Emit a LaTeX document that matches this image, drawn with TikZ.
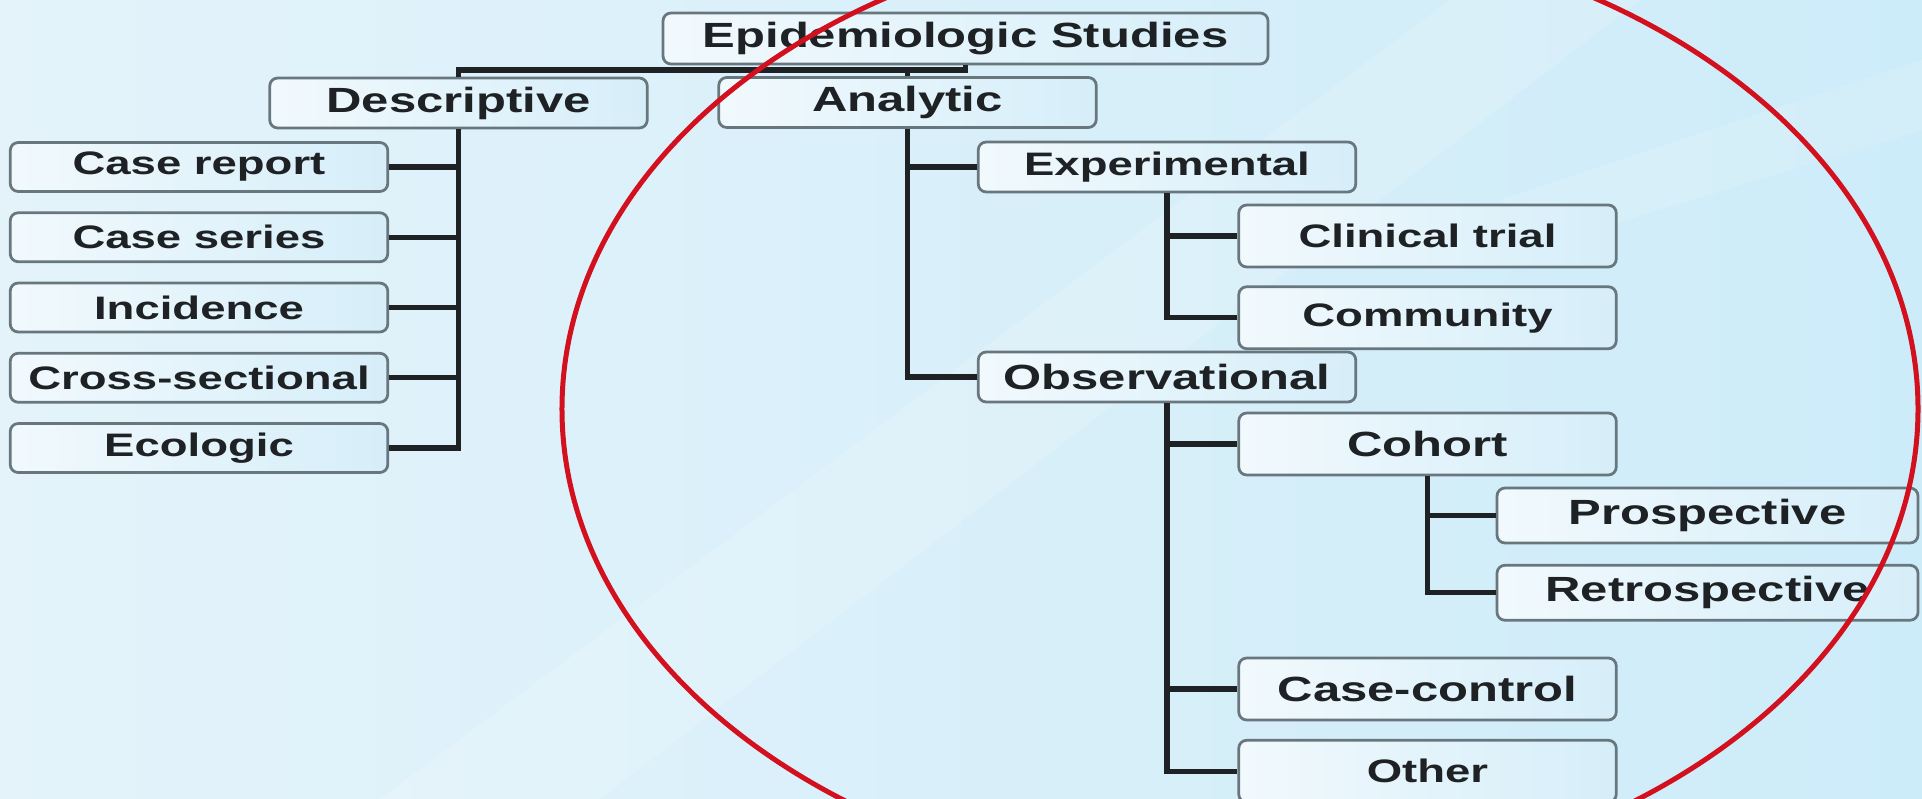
\documentclass[tikz,border=0pt]{standalone}
\usepackage{fontspec}
\usepackage{xcolor}
\usepackage{tikz}
\usetikzlibrary{positioning}
\newfontfamily\boxfont{Liberation Sans}[FakeStretch=1.4]
\definecolor{bgleft}{RGB}{228,243,250}
\definecolor{bgright}{RGB}{205,236,249}
\definecolor{boxleft}{RGB}{241,249,253}
\definecolor{boxright}{RGB}{214,238,249}
\definecolor{boxline}{RGB}{104,118,126}
\definecolor{inkdark}{RGB}{30,34,37}
\definecolor{ringred}{RGB}{210,16,30}

\begin{document}
\begin{tikzpicture}[
    x=0.4pt, y=-0.4pt,
    box/.style={draw=boxline, line width=1.1pt, rounded corners=3.2pt, left color=boxleft, right color=boxright,
                minimum width=151pt, minimum height=20pt, inner sep=0pt, text=inkdark,
                font=\boxfont\bfseries\fontsize{13}{15}\selectfont},
    boxbig/.style={box, font=\boxfont\bfseries\fontsize{14}{16}\selectfont},
    leaf/.style={box, minimum height=19.6pt},
    tall/.style={minimum height=24.8pt},
    wide/.style={minimum width=168.4pt, minimum height=22pt},
    link/.style={draw=inkdark, line width=2.1pt},
    ring/.style={draw=ringred, line width=2pt}
  ]
  \clip (0,0) rectangle (1922,799);
  \shade[left color=bgleft, right color=bgright] (0,0) rectangle (1922,799);
  % light streaks of the slide background
  \fill[white, opacity=0.16] (380,799) -- (1450,0) -- (1640,0) -- (600,799) -- cycle;
  \fill[white, opacity=0.14] (1500,200) -- (1922,60) -- (1922,130) -- (1560,240) -- cycle;

  \node[boxbig, minimum width=242pt, minimum height=20.4pt] (root) at (965.5,38.5) {Epidemiologic Studies};
  \node[boxbig] (desc) at (458.5,103) {Descriptive};
  \node[boxbig] (anl) at (907.5,102.5) {Analytic};

  % descriptive branch
  \node[leaf] (crep) at (199,167) {Case report};
  \node[leaf, below=7.4pt of crep] (cser) {Case series};
  \node[leaf, below=7.4pt of cser] (inc) {Incidence};
  \node[leaf, below=7.4pt of inc] (cross) {Cross-sectional};
  \node[leaf, below=7.4pt of cross] (eco) {Ecologic};

  % analytic branch
  \node[box] (exp) at (1167,167) {Experimental};
  \node[boxbig] (obs) at (1167,377) {Observational};
  \node[box, tall] (clin) at (1427.5,236) {Clinical trial};
  \node[box, tall, below=6.8pt of clin] (comm) {Community};
  \node[boxbig, tall] (coh) at (1427.5,444) {Cohort};
  \node[boxbig, wide] (pros) at (1707.5,515.5) {Prospective};
  \node[boxbig, wide, below=7.8pt of pros] (retro) {Retrospective};
  \node[boxbig, tall] (cc) at (1427.5,689) {Case-control};
  \node[box, tall, below=7pt of cc] (oth) {Other};

  \coordinate (bar) at (0,70);
  \draw[link] (root.south) |- (bar -| desc.north) -- (desc.north);
  \draw[link] (anl.north) -- (anl.north |- bar);
  \foreach \kid in {crep,cser,inc,cross,eco} \draw[link] (desc.south) |- (\kid.east);
  \foreach \kid in {exp,obs} \draw[link] (anl.south) |- (\kid.west);
  \foreach \kid in {clin,comm} \draw[link] (exp.south) |- (\kid.west);
  \foreach \kid in {coh,cc,oth} \draw[link] (obs.south) |- (\kid.west);
  \foreach \kid in {pros,retro} \draw[link] (coh.south) |- (\kid.west);

  \draw[ring] (1240,409) ellipse [x radius=271.2pt, y radius=192.8pt];
\end{tikzpicture}
\end{document}
